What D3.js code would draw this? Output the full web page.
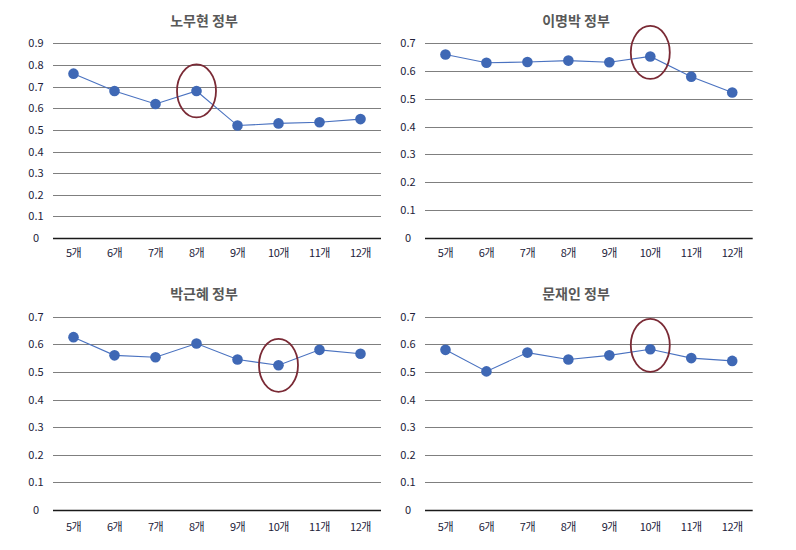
<!DOCTYPE html>
<html>
<head>
<meta charset="utf-8">
<script src="https://cdn.jsdelivr.net/npm/d3@7"></script>
<style>
  body { margin: 0; background: #fff; }
  svg { display: block; }
  text { font-family: "Noto Sans CJK KR", "Noto Sans", sans-serif; }
</style>
</head>
<body>
<svg id="chart" width="796" height="550"></svg>
<script>
// ---- data ----
const categories = ["5개", "6개", "7개", "8개", "9개", "10개", "11개", "12개"];
const titles = ["노무현 정부", "이명박 정부", "박근혜 정부", "문재인 정부"];
const roh  = [0.76, 0.68, 0.62, 0.68, 0.52, 0.53, 0.535, 0.55];
const lee  = [0.66, 0.63, 0.633, 0.638, 0.632, 0.653, 0.58, 0.523];
const park = [0.626, 0.56, 0.553, 0.603, 0.545, 0.524, 0.58, 0.566];
const moon = [0.58, 0.502, 0.57, 0.545, 0.56, 0.582, 0.55, 0.54];
const seriesList = [roh, lee, park, moon];
const yMaxes = [0.9, 0.7, 0.7, 0.7];
const highlightIndex = [3, 5, 5, 5];
const yTicks = [
  [0, 0.1, 0.2, 0.3, 0.4, 0.5, 0.6, 0.7, 0.8, 0.9],
  [0, 0.1, 0.2, 0.3, 0.4, 0.5, 0.6, 0.7],
  [0, 0.1, 0.2, 0.3, 0.4, 0.5, 0.6, 0.7],
  [0, 0.1, 0.2, 0.3, 0.4, 0.5, 0.6, 0.7]
];

// ---- layout ----
const panels = [
  { x0: 53,  x1: 381,   y0: 238, y1: 43.4,  titleX: 204,   titleY: 26,  labelX: 36,  xLabY: 257, ellDy: 0 },
  { x0: 425, x1: 752.7, y0: 237.5, y1: 43.4, titleX: 576, titleY: 26,  labelX: 408, xLabY: 257, ellDy: -4 },
  { x0: 53,  x1: 381,   y0: 510, y1: 316.7, titleX: 204,   titleY: 299, labelX: 36,  xLabY: 531, ellDy: 0 },
  { x0: 425, x1: 752.7, y0: 510, y1: 316.7, titleX: 576,   titleY: 299, labelX: 408, xLabY: 531, ellDy: -4 }
];

const svg = d3.select("#chart");

panels.forEach((p, i) => {
  const g = svg.append("g");
  const x = d3.scaleBand().domain(categories).range([p.x0, p.x1]);
  const y = d3.scaleLinear().domain([0, yMaxes[i]]).range([p.y0, p.y1]);
  const data = seriesList[i];

  // title
  g.append("text")
    .attr("x", p.titleX).attr("y", p.titleY)
    .attr("text-anchor", "middle")
    .attr("font-size", 14).attr("font-weight", "bold")
    .attr("fill", "#595959")
    .text(titles[i]);

  // gridlines
  g.selectAll("line.grid").data(yTicks[i]).enter().append("line")
    .attr("x1", p.x0).attr("x2", p.x1)
    .attr("y1", d => Math.round(y(d)) + 0.5).attr("y2", d => Math.round(y(d)) + 0.5)
    .attr("stroke", d => d === 0 ? "#1a1a1a" : "#7f7f7f")
    .attr("stroke-width", d => d === 0 ? 1.3 : 1);

  // y labels
  g.selectAll("text.ylab").data(yTicks[i]).enter().append("text")
    .attr("x", p.labelX).attr("y", d => y(d) + 4)
    .attr("text-anchor", "middle")
    .attr("font-size", 11).attr("fill", "#22223a")
    .text(d => d === 0 ? "0" : d3.format(".1f")(d));

  // x labels
  g.selectAll("text.xlab").data(categories).enter().append("text")
    .attr("x", d => x(d) + x.bandwidth() / 2).attr("y", p.xLabY)
    .attr("text-anchor", "middle")
    .attr("font-size", 11).attr("fill", "#22223a")
    .attr("letter-spacing", "-0.5")
    .text(d => d);

  // line
  const line = d3.line()
    .x((d, k) => x(categories[k]) + x.bandwidth() / 2)
    .y(d => y(d));
  g.append("path").datum(data)
    .attr("d", line)
    .attr("fill", "none")
    .attr("stroke", "#4a72c0")
    .attr("stroke-width", 1.1);

  // markers
  g.selectAll("circle.pt").data(data).enter().append("circle")
    .attr("cx", (d, k) => x(categories[k]) + x.bandwidth() / 2)
    .attr("cy", d => y(d))
    .attr("r", 5.3)
    .attr("fill", "#3f68b5");

  // highlight ellipse
  const h = highlightIndex[i];
  g.append("ellipse")
    .attr("cx", x(categories[h]) + x.bandwidth() / 2)
    .attr("cy", y(data[h]) + p.ellDy)
    .attr("rx", 19.5).attr("ry", 26.5)
    .attr("fill", "none")
    .attr("stroke", "#7a2a35")
    .attr("stroke-width", 1.8);
});
</script>
</body>
</html>
